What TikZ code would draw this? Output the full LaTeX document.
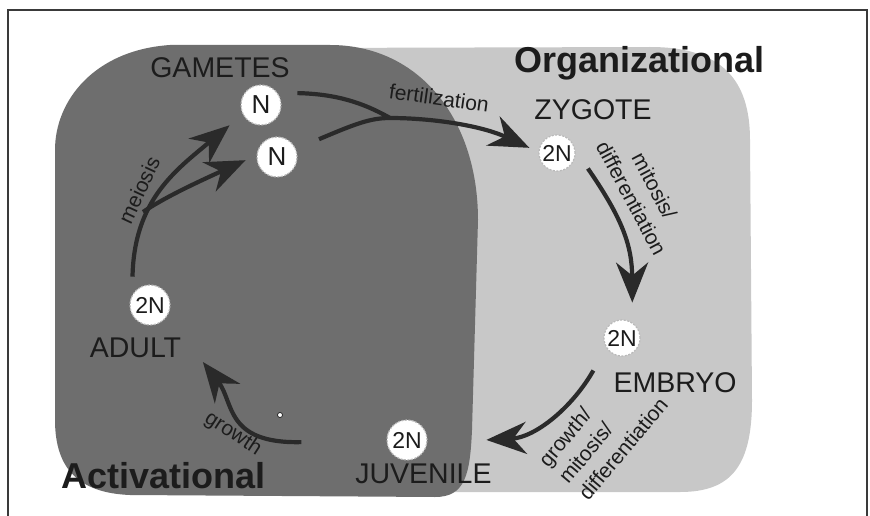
\documentclass[tikz,border=0pt]{standalone}
\usepackage{fontspec}
\setmainfont{Liberation Sans}
\usetikzlibrary{arrows.meta}
\definecolor{darkblob}{HTML}{6E6E6E}
\definecolor{lightblob}{HTML}{C8C8C8}
\definecolor{ink}{HTML}{1C1C1C}
\definecolor{arrowc}{HTML}{2A2A2A}
\definecolor{framec}{HTML}{3A3A3A}
\begin{document}
\begin{tikzpicture}[x=1pt,y=-1pt,
  frame/.style={draw=framec,line width=1.5pt},
  lbl/.style={font=\fontsize{28.5}{34}\selectfont,text=ink,anchor=base,inner sep=0pt},
  big/.style={font=\bfseries\fontsize{36}{42}\selectfont,text=ink,anchor=base,inner sep=0pt},
  small/.style={font=\fontsize{21}{26}\selectfont,text=ink,inner sep=0pt},
  cell/.style={circle,fill=white,draw=gray!55,dash pattern=on 2pt off 1.5pt,line width=1.2pt,
    minimum size=40pt,inner sep=0pt,font=\fontsize{23}{23}\selectfont,text=ink},
  cellN/.style={cell,font=\fontsize{26}{26}\selectfont},
  arr/.style={draw=arrowc,line width=4.2pt,-{Stealth[length=40pt,width=32pt,inset=13pt]}},
  plain/.style={draw=arrowc,line width=4.2pt}]
\useasboundingbox (0,0) rectangle (870,516);
\fill[white] (0,0) rectangle (870,516);
\draw[frame] (8,516) -- (8,10) -- (867,10) -- (867,516);
% Organizational region
\fill[lightblob] (300,48) -- (650,47) .. controls (722,47) and (750,80) .. (750,140)
  -- (752,400) .. controls (752,465) and (732,492) .. (680,492) -- (300,492) -- cycle;
% Activational region
\fill[darkblob] (55,150) .. controls (55,100) and (95,50) .. (170,45) -- (330,45)
  .. controls (420,45) and (478,120) .. (478,220) -- (472,430)
  .. controls (470,475) and (465,497) .. (435,497) -- (130,495)
  .. controls (80,493) and (55,470) .. (55,420) -- cycle;
% titles
\node[big] (org) at (639.5,73) {Organizational};
\node[big] (act) at (163.5,488) {Activational};
% stage labels
\node[lbl] (gaml) at (220,78) {GAMETES};
\node[lbl] (zygl) at (593,120) {ZYGOTE};
\node[lbl] (embl) at (675,392) {EMBRYO};
\node[lbl] (juvl) at (423.5,483) {JUVENILE};
\node[lbl] (adul) at (135.5,357) {ADULT};
% cells
\node[cellN] (g1) at (261,105) {N};
\node[cellN] (g2) at (277,157) {N};
\node[cell,minimum size=36pt] (zyg) at (557,153) {2N};
\node[cell,minimum size=36pt] (emb) at (622,338) {2N};
\node[cell] (juv) at (407,440) {2N};
\node[cell] (adu) at (150,305) {2N};
\node[circle,draw=ink,fill=white,line width=0.7pt,minimum size=5pt,inner sep=0pt] (speck) at (280,415) {};
% connectors
\coordinate (fork) at (143,212);
\coordinate (merge) at (390,118);
\draw[arr,shorten <=18pt,shorten >=17pt] (adu.150) .. controls (134,200) and (176,170) .. (g1.207);
\draw[arr,shorten >=12pt] (fork) .. controls (165,197) and (200,181) .. (g2.175);
\draw[plain,shorten <=20pt] (g1.37) .. controls (335,94) and (362,102) .. (merge);
\draw[arr,shorten <=25pt,shorten >=10pt] (g2.23) .. controls (355,124) and (370,118) .. (merge)
  .. controls (430,118) and (480,125) .. (zyg.177);
\draw[arr,shorten <=22pt,shorten >=20pt] (zyg.8) .. controls (622,218) and (632,245) .. (emb.56);
\draw[arr,shorten <=26pt,shorten >=59pt] (emb.212) .. controls (572,408) and (535,437.5) .. (juv.-8);
\draw[arr,shorten <=85pt,shorten >=58pt] (juv.180) .. controls (225,444) and (234,402) .. (adu.-33);
% process labels
\node[small,rotate=-8] (fert) at (439,98) {fertilization};
\node[small,rotate=65] (mei) at (139,190) {meiosis};
\node[small,rotate=-62,align=center] (mit) at (643,192) {mitosis/\\differentiation};
\node[small,rotate=50,align=left] (gmd) at (603,432) {growth/\\mitosis/\\differentiation};
\node[small,rotate=-33] (gro) at (233,434) {growth};
\end{tikzpicture}
\end{document}
